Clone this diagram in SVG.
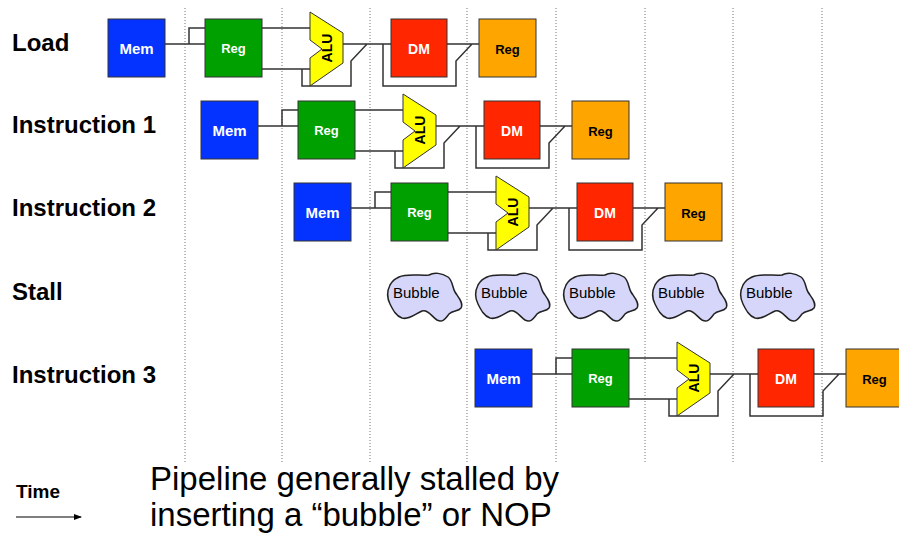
<svg xmlns="http://www.w3.org/2000/svg" width="899" height="537" viewBox="0 0 899 537">
<defs>
<style>
.box{stroke:#333;stroke-width:1}
.mem{fill:#0433ff}
.reg{fill:#00a000}
.dm{fill:#ff2600}
.wb{fill:#ffa500}
.alu{fill:#ffff00;stroke:#333;stroke-width:1}
.t{font-family:"Liberation Sans",Arial,Helvetica,sans-serif;font-weight:bold;text-anchor:middle}
.tw{fill:#fff}
.tb{fill:#000}
.wire{fill:none;stroke:#333;stroke-width:1.5}
.grid{stroke:#777;stroke-width:1;stroke-dasharray:1 2}
.row{font-family:"Liberation Sans",Arial,Helvetica,sans-serif;font-weight:bold;font-size:24px;fill:#000}
.bub{fill:#d6d6fa;stroke:#222;stroke-width:1.5}
.bt{font-family:"Liberation Sans",Arial,Helvetica,sans-serif;font-size:15px;fill:#000}
.big{font-family:"Liberation Sans",Arial,Helvetica,sans-serif;font-size:33px;fill:#000}
.time{font-family:"Liberation Sans",Arial,Helvetica,sans-serif;font-weight:bold;font-size:19px;fill:#000}
</style>
<marker id="ah" markerWidth="8" markerHeight="6" refX="7" refY="3" orient="auto" markerUnits="userSpaceOnUse">
<path d="M0,0 L8,3 L0,6 Z" fill="#000"/>
</marker>
<path id="blob" d="M12,4 C20,0 34,3 42,2 C47,-1 55,0 61,4 C66,8 65,14 68,19 C71,24 77,30 74,35 C71,39 66,37 62,41 C58,46 56,50 50,47 C45,44 41,36 35,38 C28,41 22,47 15,45 C9,43 6,37 3,31 C0,25 0,18 3,12 C6,7 8,6 12,4 Z"/>
</defs>

<g id="gridlines">
<line class="grid" x1="185" y1="8" x2="185" y2="463"/>
<line class="grid" x1="282" y1="8" x2="282" y2="463"/>
<line class="grid" x1="370" y1="8" x2="370" y2="463"/>
<line class="grid" x1="467" y1="8" x2="467" y2="463"/>
<line class="grid" x1="556" y1="8" x2="556" y2="463"/>
<line class="grid" x1="645" y1="8" x2="645" y2="463"/>
<line class="grid" x1="733" y1="8" x2="733" y2="463"/>
<line class="grid" x1="822" y1="8" x2="822" y2="463"/>
</g>

<g id="labels">
<text class="row" x="12" y="51">Load</text>
<text class="row" x="12" y="133">Instruction 1</text>
<text class="row" x="12" y="216">Instruction 2</text>
<text class="row" x="12" y="300">Stall</text>
<text class="row" x="12" y="383">Instruction 3</text>
</g>

<g id="connectors">
<g id="wires-load">
<path class="wire" d="M165,44 H205 M189,44 V28 H205 M262,28 H310 M262,69 H310 M302,69 V86 H351 V61 L367,44 M343,44 H391 M383,44 V86 H456 V61 L472,44 M447,44 H479"/>
</g>
<g id="wires-i1" transform="translate(93,82)">
<path class="wire" d="M165,44 H205 M189,44 V28 H205 M262,28 H310 M262,69 H310 M302,69 V86 H351 V61 L367,44 M343,44 H391 M383,44 V86 H456 V61 L472,44 M447,44 H479"/>
</g>
<g id="wires-i2" transform="translate(186,164)">
<path class="wire" d="M165,44 H205 M189,44 V28 H205 M262,28 H310 M262,69 H310 M302,69 V86 H351 V61 L367,44 M343,44 H391 M383,44 V86 H456 V61 L472,44 M447,44 H479"/>
</g>
<g id="wires-i3" transform="translate(367,330)">
<path class="wire" d="M165,44 H205 M189,44 V28 H205 M262,28 H310 M262,69 H310 M302,69 V86 H351 V61 L367,44 M343,44 H391 M383,44 V86 H456 V61 L472,44 M447,44 H479"/>
</g>
<g id="time-arrow">
<line x1="16" y1="517" x2="81" y2="517" stroke="#000" stroke-width="1.2" marker-end="url(#ah)"/>
</g>
</g>

<g id="row-load">
<g id="load-mem"><rect class="box mem" x="108" y="19" width="57" height="58"/><text class="t tw" x="136.5" y="54" font-size="15">Mem</text></g>
<g id="load-reg"><rect class="box reg" x="205" y="19" width="57" height="58"/><text class="t tw" x="233.5" y="53" font-size="13">Reg</text></g>
<g id="load-alu"><polygon class="alu" points="310,12 343,33 343,63 310,86 310,58 322,49 310,40"/><text class="t tb" font-size="14" transform="translate(332,48) rotate(-90)">ALU</text></g>
<g id="load-dm"><rect class="box dm" x="391" y="19" width="56" height="58"/><text class="t tw" x="419" y="54" font-size="14">DM</text></g>
<g id="load-wb"><rect class="box wb" x="479" y="19" width="57" height="58"/><text class="t tb" x="507.5" y="54" font-size="13">Reg</text></g>
</g>

<g id="row-i1" transform="translate(93,82)">
<g id="i1-mem"><rect class="box mem" x="108" y="19" width="57" height="58"/><text class="t tw" x="136.5" y="54" font-size="15">Mem</text></g>
<g id="i1-reg"><rect class="box reg" x="205" y="19" width="57" height="58"/><text class="t tw" x="233.5" y="53" font-size="13">Reg</text></g>
<g id="i1-alu"><polygon class="alu" points="310,12 343,33 343,63 310,86 310,58 322,49 310,40"/><text class="t tb" font-size="14" transform="translate(332,48) rotate(-90)">ALU</text></g>
<g id="i1-dm"><rect class="box dm" x="391" y="19" width="56" height="58"/><text class="t tw" x="419" y="54" font-size="14">DM</text></g>
<g id="i1-wb"><rect class="box wb" x="479" y="19" width="57" height="58"/><text class="t tb" x="507.5" y="54" font-size="13">Reg</text></g>
</g>

<g id="row-i2" transform="translate(186,164)">
<g id="i2-mem"><rect class="box mem" x="108" y="19" width="57" height="58"/><text class="t tw" x="136.5" y="54" font-size="15">Mem</text></g>
<g id="i2-reg"><rect class="box reg" x="205" y="19" width="57" height="58"/><text class="t tw" x="233.5" y="53" font-size="13">Reg</text></g>
<g id="i2-alu"><polygon class="alu" points="310,12 343,33 343,63 310,86 310,58 322,49 310,40"/><text class="t tb" font-size="14" transform="translate(332,48) rotate(-90)">ALU</text></g>
<g id="i2-dm"><rect class="box dm" x="391" y="19" width="56" height="58"/><text class="t tw" x="419" y="54" font-size="14">DM</text></g>
<g id="i2-wb"><rect class="box wb" x="479" y="19" width="57" height="58"/><text class="t tb" x="507.5" y="54" font-size="13">Reg</text></g>
</g>

<g id="row-stall">
<g id="bubble1" transform="translate(387,273)"><use href="#blob" class="bub"/><text class="bt" x="6" y="25">Bubble</text></g>
<g id="bubble2" transform="translate(475,273)"><use href="#blob" class="bub"/><text class="bt" x="6" y="25">Bubble</text></g>
<g id="bubble3" transform="translate(563,273)"><use href="#blob" class="bub"/><text class="bt" x="6" y="25">Bubble</text></g>
<g id="bubble4" transform="translate(652,273)"><use href="#blob" class="bub"/><text class="bt" x="6" y="25">Bubble</text></g>
<g id="bubble5" transform="translate(740,273)"><use href="#blob" class="bub"/><text class="bt" x="6" y="25">Bubble</text></g>
</g>

<g id="row-i3" transform="translate(367,330)">
<g id="i3-mem"><rect class="box mem" x="108" y="19" width="57" height="58"/><text class="t tw" x="136.5" y="54" font-size="15">Mem</text></g>
<g id="i3-reg"><rect class="box reg" x="205" y="19" width="57" height="58"/><text class="t tw" x="233.5" y="53" font-size="13">Reg</text></g>
<g id="i3-alu"><polygon class="alu" points="310,12 343,33 343,63 310,86 310,58 322,49 310,40"/><text class="t tb" font-size="14" transform="translate(332,48) rotate(-90)">ALU</text></g>
<g id="i3-dm"><rect class="box dm" x="391" y="19" width="56" height="58"/><text class="t tw" x="419" y="54" font-size="14">DM</text></g>
<g id="i3-wb"><rect class="box wb" x="479" y="19" width="57" height="58"/><text class="t tb" x="507.5" y="54" font-size="13">Reg</text></g>
</g>

<g id="footer">
<text class="time" x="16" y="498">Time</text>
<text class="big" x="150" y="490">Pipeline generally stalled by</text>
<text class="big" x="150" y="526">inserting a “bubble” or NOP</text>
</g>
</svg>
